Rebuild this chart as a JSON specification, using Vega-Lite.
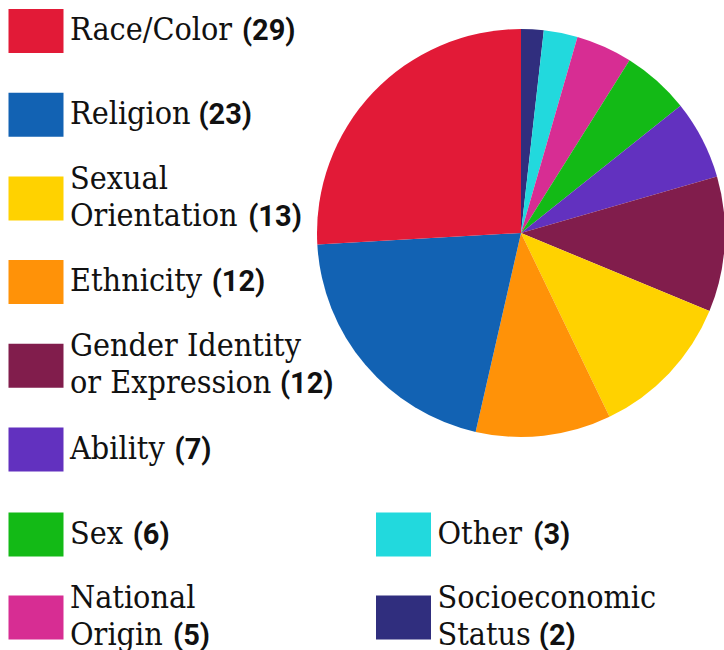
{
  "$schema": "https://vega.github.io/schema/vega-lite/v6.json",
  "padding": {"left": 8, "top": 9, "right": 0, "bottom": 0},
  "background": "white",
  "config": {"view": {"stroke": null}, "font": "DejaVu Serif"},
  "datasets": {
    "hate": [
      {"name": "Socioeconomic Status", "lines": ["Socioeconomic", "Status"], "count": 2},
      {"name": "Other", "lines": ["Other"], "count": 3},
      {"name": "National Origin", "lines": ["National", "Origin"], "count": 5},
      {"name": "Sex", "lines": ["Sex"], "count": 6},
      {"name": "Ability", "lines": ["Ability"], "count": 7},
      {"name": "Gender Identity or Expression", "lines": ["Gender Identity", "or Expression"], "count": 12},
      {"name": "Sexual Orientation", "lines": ["Sexual", "Orientation"], "count": 13},
      {"name": "Ethnicity", "lines": ["Ethnicity"], "count": 12},
      {"name": "Religion", "lines": ["Religion"], "count": 23},
      {"name": "Race/Color", "lines": ["Race/Color"], "count": 29}
    ]
  },
  "spacing": 40.5,
  "vconcat": [
    {
      "spacing": 247,
      "bounds": "flush",
      "hconcat": [
        {
          "width": 34,
          "height": 418.5,
          "data": {"name": "hate"},
          "transform": [{"filter": {"field": "name", "oneOf": ["Race/Color", "Religion", "Sexual Orientation", "Ethnicity", "Gender Identity or Expression", "Ability"]}}],
          "encoding": {
            "y": {"field": "name", "type": "nominal", "sort": ["Race/Color", "Religion", "Sexual Orientation", "Ethnicity", "Gender Identity or Expression", "Ability"], "scale": {"type": "point", "padding": 0}, "axis": null}
          },
          "layer": [
            {
              "mark": {"type": "point", "shape": "M-1,-0.8L1,-0.8L1,0.8L-1,0.8Z", "size": 3025, "filled": true, "opacity": 1, "strokeWidth": 0},
              "encoding": {
                "x": {"datum": "swatch", "type": "nominal", "scale": {"type": "point", "domain": ["swatch", "label"], "padding": 0}, "axis": null},
                "color": {"field": "name", "type": "nominal", "legend": null, "scale": {"domain": ["Race/Color", "Religion", "Sexual Orientation", "Ethnicity", "Gender Identity or Expression", "Ability", "Sex", "National Origin", "Other", "Socioeconomic Status"], "range": ["#E21A37", "#1262B3", "#FFD200", "#FF9208", "#811D4C", "#6231BF", "#13BA16", "#D72D93", "#22D9DD", "#302E7E"]}}
              }
            },
            {
              "mark": {"type": "text", "align": "left", "baseline": "middle", "font": "DejaVu Serif Condensed", "fontSize": 32, "lineHeight": 37, "color": "#111111", "dy": {"expr": "-(length(datum.lines)-1)*18.5 - 1"}},
              "encoding": {
                "x": {"datum": "label", "type": "nominal", "scale": {"type": "point", "domain": ["swatch", "label"], "padding": 0}, "axis": null},
                "text": {"field": "lines", "type": "nominal"}
              }
            },
            {
              "mark": {"type": "text", "align": "left", "baseline": "middle", "font": "Roboto", "fontWeight": "bold", "fontSize": 29, "color": "#111111",
                "text": {"expr": "'(' + datum.count + ')'"},
                "dy": {"expr": "(length(datum.lines)-1)*18.5"},
                "dx": {"expr": "28.8*(0.318 + 0.61*length(peek(datum.lines)) - 0.29*length(replace(peek(datum.lines), regexp('[^ilj I/]','g'), '')) - 0.22*length(replace(peek(datum.lines), regexp('[^tf]','g'), '')) - 0.13*length(replace(peek(datum.lines), regexp('[^r]','g'), '')) - 0.10*length(replace(peek(datum.lines), regexp('[^s]','g'), '')) + 0.29*length(replace(peek(datum.lines), regexp('[^mw]','g'), '')) + 0.13*length(replace(peek(datum.lines), regexp('[^A-HJ-Z]','g'), '')) + 0.18*length(replace(peek(datum.lines), regexp('[^OQ]','g'), '')) - 0.05*length(replace(peek(datum.lines), regexp('[^Sx]','g'), '')))"}
              },
              "encoding": {
                "x": {"datum": "label", "type": "nominal", "scale": {"type": "point", "domain": ["swatch", "label"], "padding": 0}, "axis": null}
              }
            }
          ]
        },
        {
          "width": 408,
          "height": 404,
          "data": {"name": "hate"},
          "transform": [{"window": [{"op": "row_number", "as": "idx"}]}],
          "mark": {"type": "arc", "outerRadius": 204},
          "encoding": {
            "theta": {"field": "count", "type": "quantitative", "stack": true},
            "order": {"field": "idx", "type": "quantitative"},
            "color": {"field": "name", "type": "nominal", "legend": null, "scale": {"domain": ["Race/Color", "Religion", "Sexual Orientation", "Ethnicity", "Gender Identity or Expression", "Ability", "Sex", "National Origin", "Other", "Socioeconomic Status"], "range": ["#E21A37", "#1262B3", "#FFD200", "#FF9208", "#811D4C", "#6231BF", "#13BA16", "#D72D93", "#22D9DD", "#302E7E"]}}
          }
        }
      ]
    },
    {
      "spacing": 333.5,
      "bounds": "flush",
      "hconcat": [
        {
          "width": 34,
          "height": 83,
          "data": {"name": "hate"},
          "transform": [{"filter": {"field": "name", "oneOf": ["Sex", "National Origin"]}}],
          "encoding": {
            "y": {"field": "name", "type": "nominal", "sort": ["Sex", "National Origin"], "scale": {"type": "point", "padding": 0}, "axis": null}
          },
          "layer": [
            {
              "mark": {"type": "point", "shape": "M-1,-0.8L1,-0.8L1,0.8L-1,0.8Z", "size": 3025, "filled": true, "opacity": 1, "strokeWidth": 0},
              "encoding": {
                "x": {"datum": "swatch", "type": "nominal", "scale": {"type": "point", "domain": ["swatch", "label"], "padding": 0}, "axis": null},
                "color": {"field": "name", "type": "nominal", "legend": null, "scale": {"domain": ["Race/Color", "Religion", "Sexual Orientation", "Ethnicity", "Gender Identity or Expression", "Ability", "Sex", "National Origin", "Other", "Socioeconomic Status"], "range": ["#E21A37", "#1262B3", "#FFD200", "#FF9208", "#811D4C", "#6231BF", "#13BA16", "#D72D93", "#22D9DD", "#302E7E"]}}
              }
            },
            {
              "mark": {"type": "text", "align": "left", "baseline": "middle", "font": "DejaVu Serif Condensed", "fontSize": 32, "lineHeight": 37, "color": "#111111", "dy": {"expr": "-(length(datum.lines)-1)*18.5 - 1"}},
              "encoding": {
                "x": {"datum": "label", "type": "nominal", "scale": {"type": "point", "domain": ["swatch", "label"], "padding": 0}, "axis": null},
                "text": {"field": "lines", "type": "nominal"}
              }
            },
            {
              "mark": {"type": "text", "align": "left", "baseline": "middle", "font": "Roboto", "fontWeight": "bold", "fontSize": 29, "color": "#111111",
                "text": {"expr": "'(' + datum.count + ')'"},
                "dy": {"expr": "(length(datum.lines)-1)*18.5"},
                "dx": {"expr": "28.8*(0.318 + 0.61*length(peek(datum.lines)) - 0.29*length(replace(peek(datum.lines), regexp('[^ilj I/]','g'), '')) - 0.22*length(replace(peek(datum.lines), regexp('[^tf]','g'), '')) - 0.13*length(replace(peek(datum.lines), regexp('[^r]','g'), '')) - 0.10*length(replace(peek(datum.lines), regexp('[^s]','g'), '')) + 0.29*length(replace(peek(datum.lines), regexp('[^mw]','g'), '')) + 0.13*length(replace(peek(datum.lines), regexp('[^A-HJ-Z]','g'), '')) + 0.18*length(replace(peek(datum.lines), regexp('[^OQ]','g'), '')) - 0.05*length(replace(peek(datum.lines), regexp('[^Sx]','g'), '')))"}
              },
              "encoding": {
                "x": {"datum": "label", "type": "nominal", "scale": {"type": "point", "domain": ["swatch", "label"], "padding": 0}, "axis": null}
              }
            }
          ]
        },
        {
          "width": 34,
          "height": 83,
          "data": {"name": "hate"},
          "transform": [{"filter": {"field": "name", "oneOf": ["Other", "Socioeconomic Status"]}}],
          "encoding": {
            "y": {"field": "name", "type": "nominal", "sort": ["Other", "Socioeconomic Status"], "scale": {"type": "point", "padding": 0}, "axis": null}
          },
          "layer": [
            {
              "mark": {"type": "point", "shape": "M-1,-0.8L1,-0.8L1,0.8L-1,0.8Z", "size": 3025, "filled": true, "opacity": 1, "strokeWidth": 0},
              "encoding": {
                "x": {"datum": "swatch", "type": "nominal", "scale": {"type": "point", "domain": ["swatch", "label"], "padding": 0}, "axis": null},
                "color": {"field": "name", "type": "nominal", "legend": null, "scale": {"domain": ["Race/Color", "Religion", "Sexual Orientation", "Ethnicity", "Gender Identity or Expression", "Ability", "Sex", "National Origin", "Other", "Socioeconomic Status"], "range": ["#E21A37", "#1262B3", "#FFD200", "#FF9208", "#811D4C", "#6231BF", "#13BA16", "#D72D93", "#22D9DD", "#302E7E"]}}
              }
            },
            {
              "mark": {"type": "text", "align": "left", "baseline": "middle", "font": "DejaVu Serif Condensed", "fontSize": 32, "lineHeight": 37, "color": "#111111", "dy": {"expr": "-(length(datum.lines)-1)*18.5 - 1"}},
              "encoding": {
                "x": {"datum": "label", "type": "nominal", "scale": {"type": "point", "domain": ["swatch", "label"], "padding": 0}, "axis": null},
                "text": {"field": "lines", "type": "nominal"}
              }
            },
            {
              "mark": {"type": "text", "align": "left", "baseline": "middle", "font": "Roboto", "fontWeight": "bold", "fontSize": 29, "color": "#111111",
                "text": {"expr": "'(' + datum.count + ')'"},
                "dy": {"expr": "(length(datum.lines)-1)*18.5"},
                "dx": {"expr": "28.8*(0.318 + 0.61*length(peek(datum.lines)) - 0.29*length(replace(peek(datum.lines), regexp('[^ilj I/]','g'), '')) - 0.22*length(replace(peek(datum.lines), regexp('[^tf]','g'), '')) - 0.13*length(replace(peek(datum.lines), regexp('[^r]','g'), '')) - 0.10*length(replace(peek(datum.lines), regexp('[^s]','g'), '')) + 0.29*length(replace(peek(datum.lines), regexp('[^mw]','g'), '')) + 0.13*length(replace(peek(datum.lines), regexp('[^A-HJ-Z]','g'), '')) + 0.18*length(replace(peek(datum.lines), regexp('[^OQ]','g'), '')) - 0.05*length(replace(peek(datum.lines), regexp('[^Sx]','g'), '')))"}
              },
              "encoding": {
                "x": {"datum": "label", "type": "nominal", "scale": {"type": "point", "domain": ["swatch", "label"], "padding": 0}, "axis": null}
              }
            }
          ]
        }
      ]
    }
  ]
}
